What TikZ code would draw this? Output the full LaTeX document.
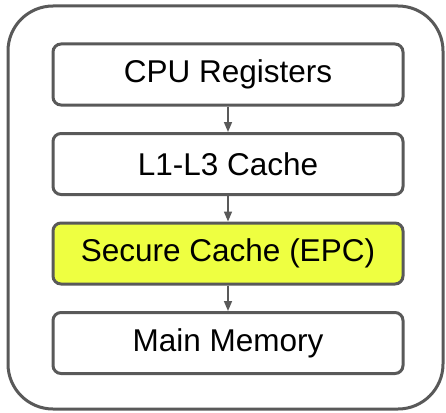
\documentclass[tikz,border=0pt]{standalone}
\usepackage{fontspec}
\setmainfont{Liberation Sans}
\usetikzlibrary{arrows.meta}
\definecolor{edge}{HTML}{595959}
\definecolor{epc}{HTML}{EEFF41}
\begin{document}
\begin{tikzpicture}[x=1pt,y=-1pt,
  levelbox/.style={draw=edge,line width=3pt,rounded corners=8pt,fill=white,
    minimum width=350pt,minimum height=61pt,inner sep=0pt,
    font=\fontsize{31.5}{36}\selectfont,text=black},
  conn/.style={draw=edge,line width=1.6pt,-{Triangle[length=10pt,width=8pt]}}]
\useasboundingbox (0,0) rectangle (446,412);
\draw[draw=edge,line width=3pt,rounded corners=45pt] (8,6) rectangle (443,409);
\node[levelbox] (cpu) at (228,74.5) {CPU Registers};
\node[levelbox] (l1) at (228,164) {L1-L3 Cache};
\node[levelbox,fill=epc] (sec) at (228,253.5) {Secure Cache (EPC)};
\node[levelbox] (mm) at (228,343) {Main Memory};
\draw[conn] (cpu) -- (l1);
\draw[conn] (l1) -- (sec);
\draw[conn] (sec) -- (mm);
\end{tikzpicture}
\end{document}
